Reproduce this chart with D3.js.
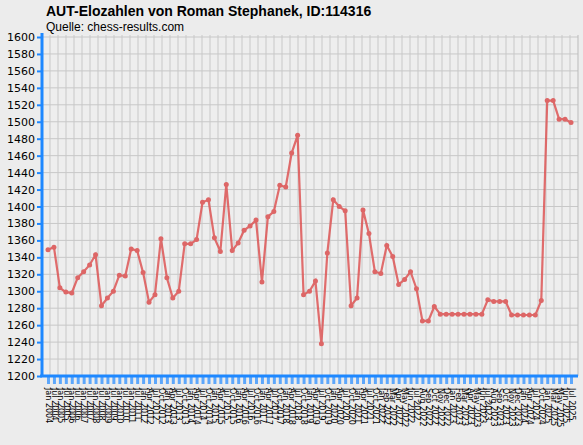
<!DOCTYPE html><html><head><meta charset="utf-8"><script src="https://cdn.jsdelivr.net/npm/d3@7"></script>
<style>body{margin:0;background:#ececec}</style></head><body><svg id="c" width="583" height="445"></svg><script>
const ratings=[1349,1352,1304,1299,1298,1316,1323,1331,1343,1283,1292,1300,1319,1318,1350,1348,1322,1287,1296,1362,1316,1292,1300,1356,1356,1361,1405,1408,1363,1347,1426,1348,1357,1372,1377,1384,1311,1388,1394,1425,1423,1463,1484,1296,1300,1312,1238,1345,1408,1400,1395,1283,1292,1396,1368,1323,1321,1354,1341,1308,1314,1323,1303,1265,1265,1282,1273,1273,1273,1273,1273,1273,1273,1273,1290,1288,1288,1288,1272,1272,1272,1272,1272,1289,1525,1525,1503,1503,1499];
const periods="Jan 2004,Jul 2004,Jan 2005,Jul 2005,Jan 2006,Jul 2006,Jan 2007,Jul 2007,Jan 2008,Jul 2008,Jan 2009,Jul 2009,Jan 2010,Jul 2010,Jan 2011,Jul 2011,Jan 2012,Apr 2012,Jul 2012,Oct 2012,Jan 2013,Apr 2013,Jul 2013,Oct 2013,Jan 2014,Apr 2014,Jul 2014,Oct 2014,Jan 2015,Apr 2015,Jul 2015,Oct 2015,Jan 2016,Apr 2016,Jul 2016,Oct 2016,Jan 2017,Apr 2017,Jul 2017,Oct 2017,Jan 2018,Apr 2018,Jul 2018,Oct 2018,Jan 2019,Apr 2019,Jul 2019,Oct 2019,Jan 2020,Apr 2020,Jul 2020,Oct 2020,Jan 2021,Apr 2021,Jul 2021,Oct 2021,Jan 2022,Feb 2022,Mar 2022,Apr 2022,May 2022,Jun 2022,Jul 2022,Aug 2022,Sep 2022,Oct 2022,Nov 2022,Dec 2022,Jan 2023,Feb 2023,Mar 2023,Apr 2023,May 2023,Jun 2023,Jul 2023,Aug 2023,Sep 2023,Oct 2023,Nov 2023,Dec 2023,Jan 2024,Apr 2024,Jul 2024,Oct 2024,Jan 2025,Mar 2025,May 2025,Jun 2025,Jul 2025".split(",");
const yTicks=d3.range(1200,1601,20);
const svg=d3.select("#c");
const L=42,R=578,T=37,B=376;
svg.append("rect").attr("x",L).attr("y",T-2).attr("width",R-L).attr("height",B-T+2).attr("fill","#eeeeee");
const x=d3.scalePoint().domain(d3.range(ratings.length)).range([48,571]);
const y=d3.scaleLinear().domain([1200,1600]).range([B,T]);
const g=svg.append("g");
d3.range(L+8,R,8).forEach(v=>g.append("line").attr("x1",v).attr("x2",v).attr("y1",T-2).attr("y2",B).attr("stroke","#c8c8c8"));
yTicks.forEach(v=>g.append("line").attr("x1",L).attr("x2",R).attr("y1",y(v)).attr("y2",y(v)).attr("stroke","#c8c8c8"));
svg.append("line").attr("x1",R).attr("x2",R).attr("y1",T-2).attr("y2",B).attr("stroke","#bbb");
const ya=svg.append("g").attr("transform",`translate(${L},0)`).call(d3.axisLeft(y).tickValues(yTicks).tickSize(5).tickPadding(2).tickFormat(d3.format("d")));
ya.select(".domain").remove();
ya.selectAll("line").attr("stroke","#1e88ff").attr("stroke-width",2);
ya.selectAll("text").attr("font-family","DejaVu Sans").attr("font-size",11).attr("fill","#000");
svg.append("line").attr("x1",L).attr("x2",L).attr("y1",T-4).attr("y2",B+1).attr("stroke","#1e88ff").attr("stroke-width",3);
const xa=svg.append("g").attr("transform",`translate(0,${B})`).call(d3.axisBottom(x).tickSize(8).tickFormat(i=>periods[i]));
xa.select(".domain").remove();
xa.selectAll("line").attr("stroke","#3a96ff").attr("stroke-width",3).attr("opacity",0.8);
xa.selectAll("text").attr("font-family","DejaVu Sans").attr("font-size",8).attr("fill","#000").attr("transform","rotate(90)").attr("text-anchor","start").attr("dy","0.35em").attr("x",12).attr("y",0);
svg.append("line").attr("x1",L-2).attr("x2",R).attr("y1",B).attr("y2",B).attr("stroke","#1e88ff").attr("stroke-width",3);
svg.append("path").datum(ratings).attr("fill","none").attr("stroke","#dd5555").attr("stroke-opacity",0.85).attr("stroke-width",2.2).attr("d",d3.line().x((d,i)=>x(i)).y(d=>y(d)));
svg.selectAll("circle").data(ratings).join("circle").attr("cx",(d,i)=>x(i)).attr("cy",d=>y(d)).attr("r",2.5).attr("fill","#dd6666");
svg.append("text").attr("x",46).attr("y",16).attr("font-family","Liberation Sans").attr("font-weight","bold").attr("font-size",14).text("AUT-Elozahlen von Roman Stephanek, ID:114316");
svg.append("text").attr("x",46).attr("y",31).attr("font-family","Liberation Sans").attr("font-size",12).text("Quelle: chess-results.com");
</script></body></html>
